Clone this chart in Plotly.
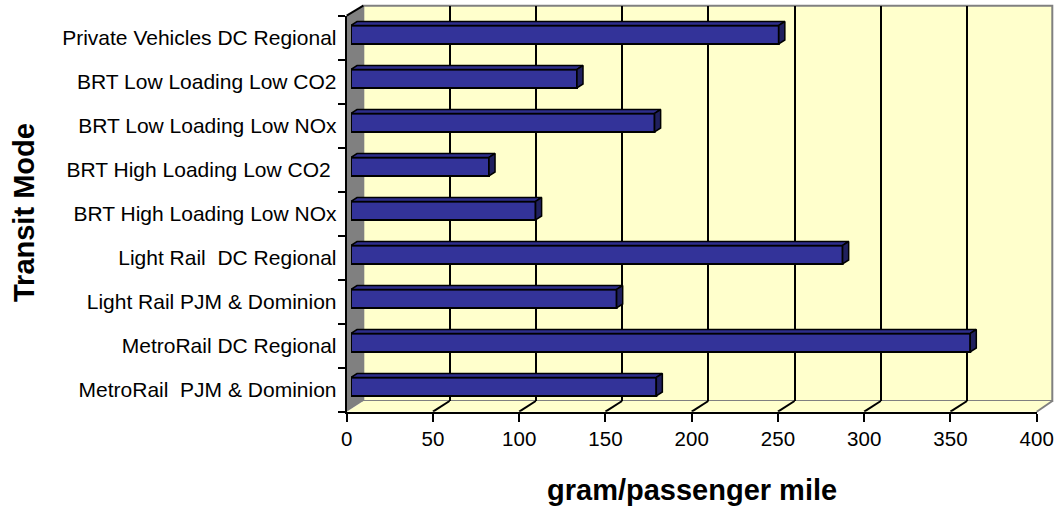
import plotly.graph_objects as go

# ---------------- data ----------------
categories = [
    "MetroRail  PJM & Dominion",
    "MetroRail DC Regional",
    "Light Rail PJM & Dominion",
    "Light Rail  DC Regional",
    "BRT High Loading Low NOx",
    "BRT High Loading Low CO2 ",
    "BRT Low Loading Low NOx",
    "BRT Low Loading Low CO2",
    "Private Vehicles DC Regional",
]
values = [177, 359, 154, 285, 107, 80, 176, 131, 248]
x_ticks = [0, 50, 100, 150, 200, 250, 300, 350, 400]
x_title = "gram/passenger mile"
y_title = "Transit Mode"

# ---------------- geometry helpers ----------------
W, H = 1061, 516
def fx(px):
    return px / W
def fy(py):
    return 1 - py / H

FONT = "Liberation Sans, Arial, sans-serif"
FRONT = "#333399"
TOP = "#2E2E8C"
SIDE = "#20205E"
WALL = "#FFFFCC"
GRAY = "#808080"

pos = list(range(len(categories)))
bar_w = 0.42
dx = 3.5    # extrusion depth in value units
dy = 0.09   # extrusion depth in category units

fig = go.Figure()

# invisible anchors so every subplot renders
fig.add_trace(go.Scatter(x=[None], y=[None], xaxis="x", yaxis="y", showlegend=False, hoverinfo="skip"))

# front faces of the bars
fig.add_trace(go.Bar(
    x=values, y=pos, orientation="h", width=bar_w,
    marker=dict(color=FRONT, line=dict(color="black", width=2)),
    xaxis="x2", yaxis="y2", showlegend=False,
))

# 3D top and side faces built from the values
tx, ty, sx, sy = [], [], [], []
for p, v in zip(pos, values):
    t = p + bar_w / 2
    b = p - bar_w / 2
    tx += [0, dx, v + dx, v, 0, None]
    ty += [t, t + dy, t + dy, t, t, None]
    sx += [v, v + dx, v + dx, v, v, None]
    sy += [t, t + dy, b + dy, b, t, None]
fig.add_trace(go.Scatter(x=tx, y=ty, fill="toself", fillcolor=TOP, mode="lines",
                         line=dict(color="black", width=1.5), xaxis="x2", yaxis="y2",
                         showlegend=False, hoverinfo="skip"))
fig.add_trace(go.Scatter(x=sx, y=sy, fill="toself", fillcolor=SIDE, mode="lines",
                         line=dict(color="black", width=1.5), xaxis="x2", yaxis="y2",
                         showlegend=False, hoverinfo="skip"))

fig.add_trace(go.Scatter(x=[None], y=[None], xaxis="x3", yaxis="y3", showlegend=False, hoverinfo="skip"))

# back wall / left wall / floor (decorations)
back_l, back_r, back_t, back_b = 363.3, 1053.3, 5.7, 401.0
front_l, front_r, front_t, front_b = 346.7, 1036.7, 15.7, 411.7

def path(pts):
    return "M " + " L ".join(f"{fx(a)},{fy(b)}" for a, b in pts) + " Z"

shapes = [
    dict(type="rect", xref="paper", yref="paper", x0=fx(back_l), x1=fx(back_r - 1),
         y0=fy(back_b), y1=fy(back_t), fillcolor=WALL, line=dict(color=GRAY, width=2), layer="below"),
    dict(type="path", xref="paper", yref="paper",
         path=path([(front_l, front_b), (front_r, front_b), (back_r - 1, back_b), (back_l, back_b)]),
         fillcolor=WALL, line=dict(width=0), layer="below"),
    dict(type="line", xref="paper", yref="paper", x0=fx(front_r), y0=fy(front_b), x1=fx(back_r - 1), y1=fy(back_b),
         line=dict(color=GRAY, width=2), layer="below"),
    dict(type="path", xref="paper", yref="paper",
         path=path([(front_l, front_t), (back_l, back_t), (back_l, back_b), (front_l, front_b)]),
         fillcolor=GRAY, line=dict(width=0), layer="below"),
    dict(type="line", xref="paper", yref="paper", x0=fx(front_l), y0=fy(front_t), x1=fx(back_l), y1=fy(back_t),
         line=dict(color="black", width=2), layer="above"),
]
for t in x_ticks[1:-1]:
    shapes.append(dict(type="line", xref="x3", yref="y3", xsizemode="pixel", ysizemode="pixel",
                       xanchor=t, yanchor=-0.5, x0=0, x1=back_l - front_l, y0=0, y1=front_b - back_b,
                       line=dict(color="black", width=2), layer="above"))

fig.update_layout(
    width=W, height=H,
    margin=dict(l=0, r=0, t=0, b=0, pad=0, autoexpand=False),
    paper_bgcolor="white",
    plot_bgcolor="rgba(0,0,0,0)",
    font=dict(family=FONT, color="black"),
    shapes=shapes,
    showlegend=False,
    xaxis=dict(domain=[fx(back_l), fx(back_r)], range=[0, 400], anchor="y", automargin=False,
               tickvals=x_ticks[1:-1], showgrid=True, gridcolor="black", gridwidth=2,
               showticklabels=False, ticks="", zeroline=False, showline=False, fixedrange=True),
    yaxis=dict(domain=[fy(back_b), fy(back_t)], range=[0, 1], anchor="x", automargin=False,
               showgrid=False, showticklabels=False, zeroline=False, showline=False),
    xaxis2=dict(domain=[fx(351), fx(1041)], range=[0, 400], anchor="y2", visible=False, automargin=False),
    yaxis2=dict(domain=[fy(408.7), fy(12.7)], range=[-0.5, 8.5], anchor="x2", visible=False, automargin=False),
    xaxis3=dict(domain=[fx(front_l), fx(front_r)], range=[0, 400], anchor="y3", automargin=False,
                tickvals=x_ticks, ticks="outside", ticklen=8, tickwidth=2, tickcolor="black",
                showline=True, linecolor="black", linewidth=2, showgrid=False, zeroline=False,
                tickfont=dict(size=20.5, family=FONT, color="black")),
    yaxis3=dict(domain=[fy(front_b), fy(front_t)], range=[-0.5, 8.5], anchor="x3", automargin=False,
                tickvals=pos, ticktext=categories, ticks="outside", ticklen=4,
                tickcolor="rgba(0,0,0,0)", showline=True, linecolor="black", linewidth=2,
                showgrid=False, zeroline=False,
                minor=dict(tick0=-0.5, dtick=1, ticks="outside", ticklen=7, tickwidth=2,
                           tickcolor="black", showgrid=False),
                tickfont=dict(size=21, family=FONT, color="black")),
    annotations=[
        dict(text=f"<b>{y_title}</b>", xref="paper", yref="paper", x=fx(24), y=fy(213),
             textangle=-90, showarrow=False, font=dict(size=29, family=FONT, color="black"),
             xanchor="center", yanchor="middle"),
        dict(text=f"<b>{x_title}</b>", xref="paper", yref="paper", x=fx(691.7), y=fy(490),
             showarrow=False, font=dict(size=29, family=FONT, color="black"),
             xanchor="center", yanchor="middle"),
    ],
)

fig.write_html("out.html", config={"displayModeBar": False},
               post_script="document.body.style.margin='0px';document.body.style.overflow='hidden';")
